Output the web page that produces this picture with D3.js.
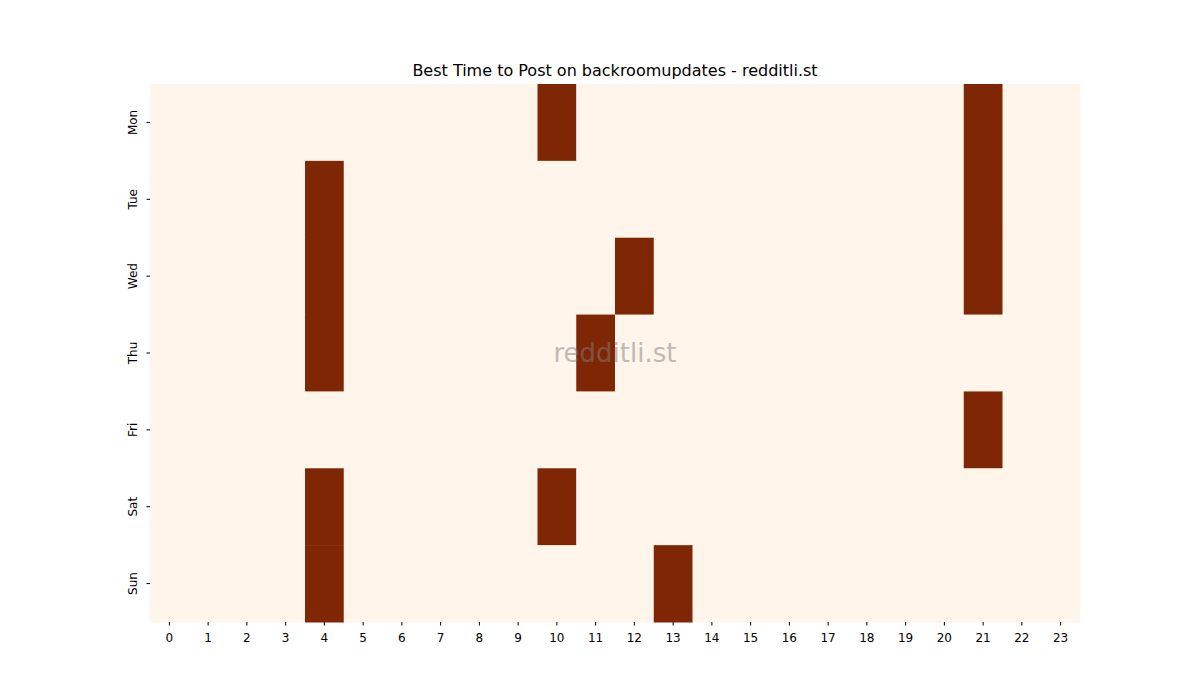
<!DOCTYPE html>
<html><head><meta charset="utf-8">
<script src="https://cdn.jsdelivr.net/npm/d3@7"></script>
<style>body{margin:0;background:#fff}text{font-family:"DejaVu Sans",sans-serif}</style>
</head><body><svg id="c" width="1200" height="700"></svg>
<script>
const days = ["Mon","Tue","Wed","Thu","Fri","Sat","Sun"];
const hours = d3.range(24).map(String);
const mon = [10,21], tue=[4,21], wed=[4,12,21], thu=[4,11], fri=[21], sat=[4,10], sun=[4,13];
const active = [mon,tue,wed,thu,fri,sat,sun];
const cells = [];
days.forEach((d,i)=>hours.forEach(h=>cells.push({day:d,hour:h,v:active[i].includes(+h)?1:0})));

const svg = d3.select("#c");
const L=150,R=1080,T=84,B=622;
const x = d3.scaleBand().domain(hours).range([L,R]);
const y = d3.scaleBand().domain(days).range([T,B]);
const color = d3.scaleLinear().domain([0,1]).range(["#fff5eb","#7f2704"]);

svg.selectAll("rect.cell").data(cells).join("rect")
  .attr("x",d=>x(d.hour)).attr("y",d=>y(d.day))
  .attr("width",x.bandwidth()+0.5).attr("height",y.bandwidth()+0.5)
  .attr("fill",d=>color(d.v));

const xa = svg.append("g").attr("transform",`translate(0,${B})`).call(d3.axisBottom(x).tickSize(3.5));
const ya = svg.append("g").attr("transform",`translate(${L},0)`).call(d3.axisLeft(y).tickSize(3.5));
[xa,ya].forEach(a=>{a.select(".domain").remove();a.selectAll("text").attr("font-size",12).attr("fill","#000");});
xa.selectAll("text").attr("dy","1.1em");
ya.selectAll("text").attr("transform",function(){const t=d3.select(this);return null;});
ya.selectAll(".tick text").attr("text-anchor","middle").attr("x",0).attr("dy",0)
  .attr("transform","translate(-17,0) rotate(-90)").attr("dominant-baseline","middle");

svg.append("text").attr("x",615).attr("y",76).attr("text-anchor","middle").attr("font-size",16).text("Best Time to Post on backroomupdates - redditli.st");
svg.append("text").attr("x",615).attr("y",362).attr("text-anchor","middle").attr("font-size",26).attr("fill","#808080").attr("opacity",0.5).text("redditli.st");
</script></body></html>
